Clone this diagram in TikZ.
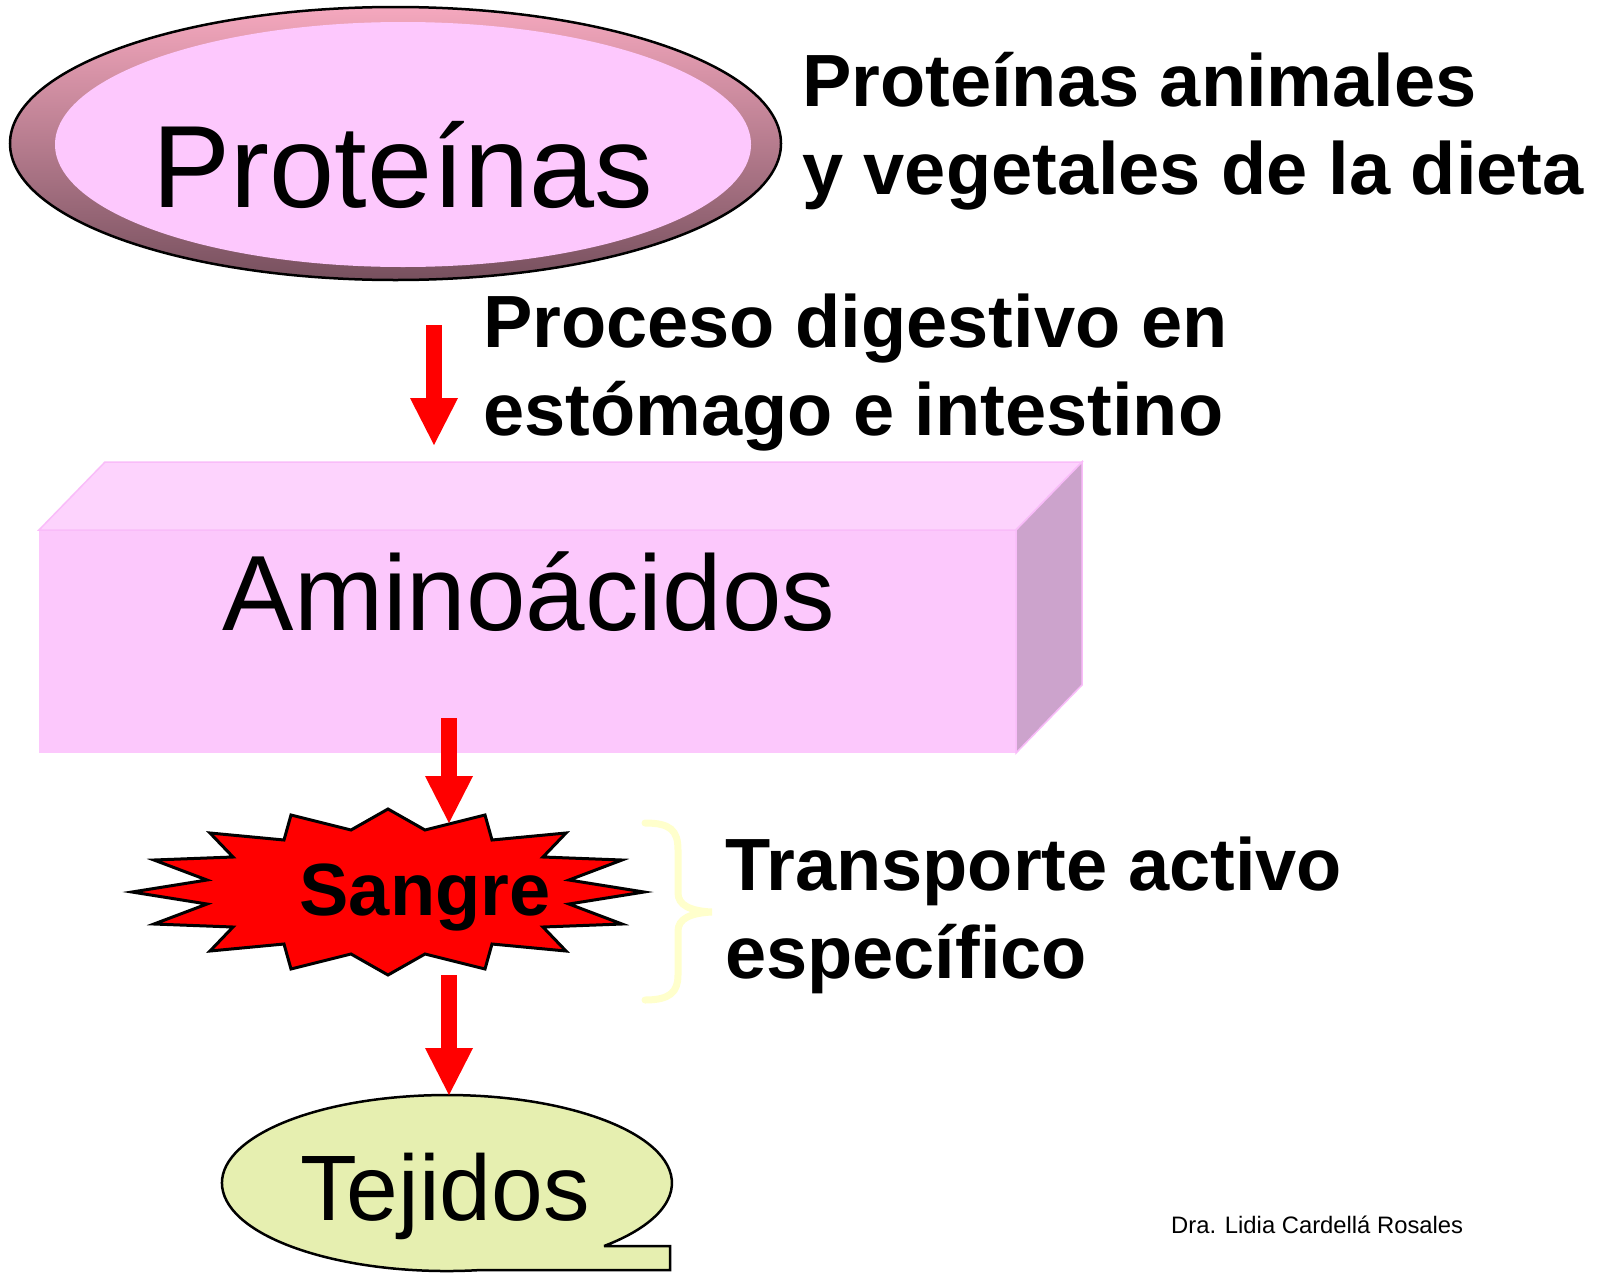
\documentclass[tikz,border=0pt]{standalone}
\usepackage{fontspec}
\setmainfont{Liberation Sans}
\usetikzlibrary{arrows.meta}

\definecolor{ringtop}{HTML}{F5A8BE}
\definecolor{ringmid}{HTML}{CF8FA3}
\definecolor{ringbot}{HTML}{77505E}
\definecolor{protfill}{HTML}{FDC8FD}
\definecolor{boxfront}{HTML}{FCC8FC}
\definecolor{boxtop}{HTML}{FDD3FD}
\definecolor{boxside}{HTML}{CCA3CC}
\definecolor{boxedge}{HTML}{F9BCF9}
\definecolor{tejfill}{HTML}{E6EFB0}
\definecolor{bracecol}{HTML}{FFFFCC}
\definecolor{arrowred}{HTML}{FF0000}

\begin{document}
\begin{tikzpicture}[x=1pt,y=-1pt,
	lbl/.style={inner sep=0pt,anchor=base},
	side/.style={inner sep=0pt,anchor=base west,align=left,font=\bfseries\fontsize{74}{88}\selectfont},
	fatarrow/.style={draw=arrowred,line width=16pt,-{Triangle[width=48pt,length=47pt,line width=0pt]}},
	outline/.style={draw=black,line width=2.5pt}]
	\fill[white] (0,0) rectangle (1606,1272);
	\useasboundingbox (0,0) rectangle (1606,1272);

	% Proteinas ellipse with shaded ring
	\shade[top color=ringtop,middle color=ringmid,bottom color=ringbot] (395.5,143.5) ellipse [x radius=385.5,y radius=136.5];
	\draw[outline] (395.5,143.5) ellipse [x radius=385.5,y radius=136.5];
	\fill[protfill] (403,144.5) ellipse [x radius=348,y radius=122.5];
	\node[lbl,font=\fontsize{117}{140}\selectfont] (proteinas) at (403,207) {Proteínas};

	% base anchor = last line
	\node[side] (dieta) at (802,194) {Proteínas animales\\y vegetales de la dieta};
	\node[side] (digestion) at (483,435) {Proceso digestivo en\\estómago e intestino};

	% Aminoacidos box
	\fill[boxfront] (39,530) rectangle (1016,753);
	\filldraw[fill=boxtop,draw=boxedge,line width=1.5pt] (39,530) -- (105,462) -- (1082,462) -- (1016,530) -- cycle;
	\filldraw[fill=boxside,draw=boxedge,line width=1.5pt] (1016,530) -- (1082,462) -- (1082,685) -- (1016,753) -- cycle;
	\node[lbl,font=\fontsize{107}{128}\selectfont] (aminoacidos) at (529,630) {Aminoácidos};

	% Sangre burst
	\filldraw[fill=arrowred,draw=black,line width=3pt,line join=miter,shift={(388,892)}]
		(0,-83) -- (37,-62) -- (97,-77) -- (104,-52) -- (178,-59) -- (155,-35) -- (234,-32) -- (181,-12) -- (256,0)
		-- (181,12) -- (234,32) -- (155,35) -- (178,59) -- (104,52) -- (97,77) -- (37,62) -- (0,83)
		-- (-37,62) -- (-97,77) -- (-104,52) -- (-178,59) -- (-155,35) -- (-234,32) -- (-181,12) -- (-256,0)
		-- (-181,-12) -- (-234,-32) -- (-155,-35) -- (-178,-59) -- (-104,-52) -- (-97,-77) -- (-37,-62) -- cycle;
	\node[lbl,font=\bfseries\fontsize{74}{88}\selectfont] (sangre) at (425,915) {Sangre};

	% brace
	\draw[bracecol,line width=7pt,line cap=round]
		(645,823) .. controls (670,823) and (678,830) .. (678,850) -- (678,893)
		.. controls (678,905) and (690,911) .. (712,912)
		.. controls (690,913) and (678,919) .. (678,931) -- (678,975)
		.. controls (678,992) and (670,1000) .. (645,1000);
	\node[side] (transporte) at (725,978) {Transporte activo\\específico};

	% Tejidos callout
	\filldraw[fill=tejfill,outline] (604,1246) -- (670,1246) -- (670,1270) -- (481,1270)
		arc[start angle=81.3,end angle=405.7,x radius=225,y radius=88] -- cycle;
	\node[lbl,font=\fontsize{93}{112}\selectfont] (tejidos) at (445,1220) {Tejidos};

	\node[inner sep=0pt,anchor=base west,font=\fontsize{23.8}{28}\selectfont] (firma) at (1171,1233) {Dra. Lidia Cardellá Rosales};

	% arrows
	\coordinate (a1s) at (434,325);
	\coordinate (a1e) at (434,445);
	\coordinate (a2s) at (449,718);
	\coordinate (a2e) at (449,823);
	\coordinate (a3s) at (449,975);
	\coordinate (a3e) at (449,1095);
	\draw[fatarrow] (a1s) -- (a1e);
	\draw[fatarrow] (a2s) -- (a2e);
	\draw[fatarrow] (a3s) -- (a3e);
\end{tikzpicture}
\end{document}
